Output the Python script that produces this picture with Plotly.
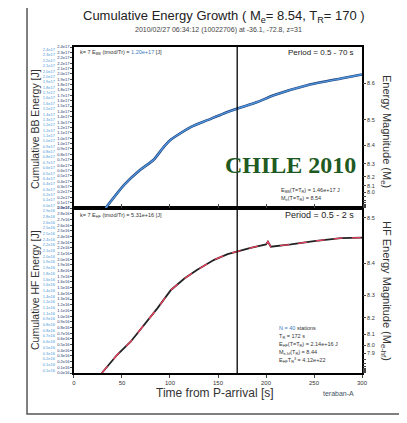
import plotly.graph_objects as go

# ---------------- data ----------------
TR = 170  # rupture duration [s]

t_bb = [33, 52, 69, 83, 94, 101, 106, 122, 139, 156, 172, 191, 208, 243, 278, 300]
e_bb = [0.00, 0.34, 0.57, 0.72, 0.92, 1.02, 1.07, 1.21, 1.31, 1.41, 1.49, 1.58, 1.68, 1.83, 1.93, 1.99]  # x1e17 J

t_hf = [29, 45, 59, 73, 87, 101, 115, 128, 146, 160, 170, 184, 200, 202, 205, 226, 250, 278, 300]
e_hf = [0.00, 0.32, 0.55, 0.84, 1.14, 1.46, 1.66, 1.81, 1.99, 2.09, 2.14, 2.20, 2.26, 2.31, 2.22, 2.26, 2.32, 2.37, 2.38]  # x1e16 J

x_ticks = [0, 50, 100, 150, 200, 250, 300]

bb_mag_ticks = [8.6, 8.5, 8.4, 8.3, 8.2, 8.1, 8.0, 7.9, 7.8, 7.7, 7.6, 7.5, 7.4, 7.3, 7.2, 7.0]
hf_mag_ticks = [8.5, 8.4, 8.3, 8.2, 8.1, 8.0, 7.9, 7.8, 7.7, 7.6, 7.5, 7.4, 7.3, 7.2, 7.0]
BB_LABEL_MIN = 8.0   # below this the crowded ticks carry no label
HF_LABEL_MIN = 7.9
BB_C = 4.37   # log10(E) = 1.5*M + C
HF_C = 3.686

BB_MAX = 2.4e17
HF_MAX = 2.9e16

# left (energy) tick labels: dense columns
bb_left_vals = [i * 0.08e17 for i in range(31)]
hf_left_vals = [i * 0.1e16 for i in range(30)]

# ---------------- figure ----------------
fig = go.Figure()

ebb = [v * 1e17 for v in e_bb]
ehf = [v * 1e16 for v in e_hf]

fig.add_trace(go.Scatter(x=t_bb, y=ebb, mode="lines", xaxis="x2", yaxis="y2",
                         line=dict(color="#1f3f7a", width=2.6, shape="spline", smoothing=0.6), hoverinfo="skip"))
fig.add_trace(go.Scatter(x=t_bb, y=ebb, mode="lines", xaxis="x2", yaxis="y2",
                         line=dict(color="#4f95dc", width=1.4, shape="spline", smoothing=0.6)))
fig.add_trace(go.Scatter(x=t_hf, y=ehf, mode="lines", xaxis="x", yaxis="y",
                         line=dict(color="#222222", width=1.8)))
fig.add_trace(go.Scatter(x=t_hf, y=ehf, mode="lines", xaxis="x", yaxis="y",
                         line=dict(color="#e8405e", width=1.3, dash="dash")))

# invisible traces to activate extra axes
fig.add_trace(go.Scatter(x=[0], y=[0], xaxis="x", yaxis="y3", mode="markers", marker=dict(opacity=0), showlegend=False))
fig.add_trace(go.Scatter(x=[0], y=[0], xaxis="x2", yaxis="y4", mode="markers", marker=dict(opacity=0), showlegend=False))
fig.add_trace(go.Scatter(x=[0], y=[0], xaxis="x", yaxis="y5", mode="markers", marker=dict(opacity=0), showlegend=False))
fig.add_trace(go.Scatter(x=[0], y=[0], xaxis="x2", yaxis="y6", mode="markers", marker=dict(opacity=0), showlegend=False))


def elab(v, exp):
    return "%.1fe%d" % (v / 10 ** exp, exp)


def mlab(m, lo):
    return "%.1f" % m if m >= lo - 1e-9 else ""


bb_mag_vals = [10 ** (1.5 * m + BB_C) for m in bb_mag_ticks]
hf_mag_vals = [10 ** (1.5 * m + HF_C) for m in hf_mag_ticks]

axis_common = dict(showline=True, linecolor="black", linewidth=1.5, mirror=True,
                   showgrid=False, zeroline=False)
X0 = 0.1325
SPLIT = 0.506

fig.update_layout(
    width=399, height=415,
    margin=dict(l=22, r=45, t=39, b=50),
    paper_bgcolor="white", plot_bgcolor="white",
    showlegend=False,
    font=dict(family="Liberation Sans, Arial, sans-serif", color="#333"),
    xaxis=dict(domain=[X0, 1], range=[0, 300], anchor="y", tickvals=x_ticks,
               ticks="outside", ticklen=3, tickfont=dict(size=6, color="#333"),
               **axis_common),
    xaxis2=dict(domain=[X0, 1], range=[0, 300], anchor="y2", matches="x",
                showticklabels=False, ticks="inside", ticklen=4, tickvals=x_ticks,
                **axis_common),
    yaxis=dict(domain=[0, SPLIT], range=[0, HF_MAX], anchor="x",
               tickvals=hf_left_vals, ticktext=[elab(v, 16) for v in hf_left_vals],
               ticks="outside", ticklen=2, tickfont=dict(size=4, color="#1c3570"),
               **axis_common),
    yaxis2=dict(domain=[SPLIT, 1], range=[0, BB_MAX], anchor="x2",
                tickvals=bb_left_vals, ticktext=[elab(v, 17) for v in bb_left_vals],
                ticks="outside", ticklen=2, tickfont=dict(size=4, color="#1c3570"),
                **axis_common),
    yaxis3=dict(overlaying="y", side="right", anchor="x", range=[0, HF_MAX],
                tickvals=hf_mag_vals, ticktext=[mlab(m, HF_LABEL_MIN) for m in hf_mag_ticks],
                ticks="outside", ticklen=3, tickfont=dict(size=5.5, color="#333"),
                showgrid=False, zeroline=False, showline=False),
    yaxis4=dict(overlaying="y2", side="right", anchor="x2", range=[0, BB_MAX],
                tickvals=bb_mag_vals, ticktext=[mlab(m, BB_LABEL_MIN) for m in bb_mag_ticks],
                ticks="outside", ticklen=3, tickfont=dict(size=5.5, color="#333"),
                showgrid=False, zeroline=False, showline=False),
    yaxis5=dict(overlaying="y", anchor="free", position=0.075, side="left",
                range=[0, HF_MAX],
                tickvals=[v + 0.05e16 for v in hf_left_vals],
                ticktext=[elab(v + 0.05e16, 16) for v in hf_left_vals],
                ticks="", tickfont=dict(size=4, color="#4a9ad8"),
                showgrid=False, zeroline=False, showline=False),
    yaxis6=dict(overlaying="y2", anchor="free", position=0.075, side="left",
                range=[0, BB_MAX],
                tickvals=[v + 0.04e17 for v in bb_left_vals],
                ticktext=[elab(v + 0.04e17, 17) for v in bb_left_vals],
                ticks="", tickfont=dict(size=4, color="#4a9ad8"),
                showgrid=False, zeroline=False, showline=False),
)

# TR vertical line and outer frame
fig.add_shape(type="line", xref="x", yref="paper", x0=TR, x1=TR, y0=0, y1=1,
              line=dict(color="black", width=1.3))
fig.add_shape(type="rect", xref="paper", yref="paper", x0=-0.009, x1=1.114, y0=-0.126, y1=1.135,
              line=dict(color="#555", width=1.5))


def px(xp, yp):
    return (xp - 30) / 332, (373 - yp) / 326


def ann(text, xp_, yp_, size, color="#333", xanchor="center", angle=0, family=None, yanchor="middle"):
    x, y = px(xp_, yp_)
    f = dict(size=size, color=color)
    if family:
        f["family"] = family
    fig.add_annotation(text=text, x=x, y=y, xref="paper", yref="paper", showarrow=False,
                       xanchor=xanchor, yanchor=yanchor, textangle=angle, font=f)


ann("Cumulative Energy Growth ( M<sub>e</sub>= 8.54, T<sub>R</sub>= 170 )", 224, 16, 13, "#222")
ann("2010/02/27 06:34:12 (10022706) at -36.1, -72.8, z=31", 218, 30, 7, "#444")
ann("Cumulative BB Energy [J]", 35, 129, 10.5, "#333", angle=-90)
ann("Cumulative HF Energy [J]", 35, 290, 10.5, "#333", angle=-90)
ann("Energy Magnitude (M<sub>e</sub>)", 386, 131, 11, "#333", angle=90)
ann("HF Energy Magnitude (M<sub>e-hf</sub>)", 386, 291, 11, "#333", angle=90)
ann("Time from P-arrival [s]", 215, 393, 12, "#333")
ann("teraban-A", 338, 393, 7, "#456")
ann("<b>CHILE 2010</b>", 290, 165, 24, "#1e5a22", family="Liberation Serif, Times New Roman, serif")

ann("k= 7 E<sub>BB</sub> (tmod/Tr) = <span style='color:#3a7ac0'>1.20e+17</span> [J]", 78, 52, 5.5, "#333", xanchor="left")
ann("Period = 0.5 - 70 s", 356, 52, 8, "#222", xanchor="right")
ann("E<sub>BB</sub>(T=T<sub>R</sub>) = 1.46e+17 J", 279, 190, 5.5, "#333", xanchor="left")
ann("M<sub>e</sub>(T=T<sub>R</sub>) = 8.54", 279, 198, 5.5, "#333", xanchor="left")

ann("k= 7 E<sub>HF</sub> (tmod/Tr) = 5.31e+16 [J]", 78, 215, 5.5, "#333", xanchor="left")
ann("Period = 0.5 - 2 s", 356, 215, 9, "#222", xanchor="right")
ann("<span style='color:#3a7ac0'>N = 40</span> stations", 277, 328, 5.5, "#333", xanchor="left")
ann("T<sub>R</sub> = 172 s", 277, 336, 5.5, "#333", xanchor="left")
ann("E<sub>HF</sub>(T=T<sub>R</sub>) = 2.14e+16 J", 277, 344, 5.5, "#333", xanchor="left")
ann("M<sub>e-hf</sub>(T<sub>R</sub>) = 8.44", 277, 352, 5.5, "#333", xanchor="left")
ann("E<sub>HF</sub>T<sub>R</sub><sup>3</sup> = 4.12e+22", 277, 360, 5.5, "#333", xanchor="left")

fig.write_html("out.html")
